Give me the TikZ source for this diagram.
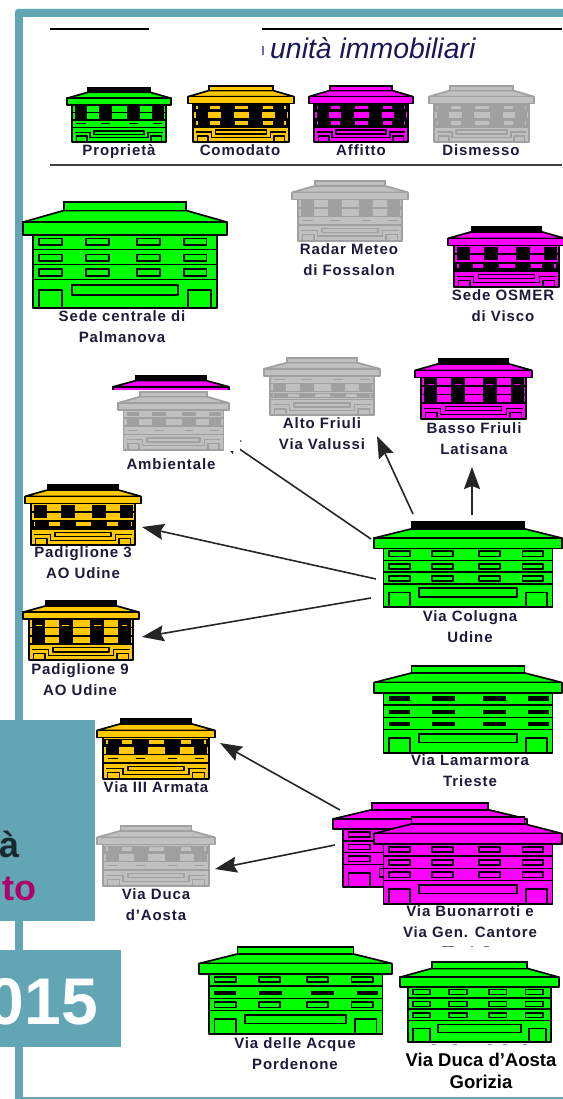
\documentclass[tikz,border=0pt]{standalone}
\usepackage{fontspec}
\setmainfont{Liberation Sans}
\newfontfamily\labfont[LetterSpace=6]{Liberation Sans}
\usetikzlibrary{arrows.meta}
\definecolor{tealc}{HTML}{62A5B4}
\definecolor{grn}{HTML}{00FF00}
\definecolor{yel}{HTML}{FFC800}
\definecolor{mag}{HTML}{FF00FF}
\definecolor{gfill}{HTML}{C0C0C0}
\definecolor{gline}{HTML}{A0A0A0}
\definecolor{labcol}{HTML}{1C1C3A}
\tikzset{
  bl/.style={draw=bline,line width=1.7pt,line join=bevel,fill=bfill},
  blk/.style={fill=bline,draw=none},
  lab/.style={font=\labfont\fontsize{15}{21}\selectfont\bfseries,text=labcol,align=center,inner sep=0pt},
  arr/.style={draw=black!85,line width=1.6pt,-{Stealth[length=22pt,width=16pt,inset=3pt]}},
  bbox/.style={inner sep=0pt,outer sep=0pt,anchor=north west}
}
% rows of windows, in the unit square of one building
\newcommand\bzwo[2]{\foreach \a/\b in {.08/.19,.31/.42,.56/.67,.79/.90}{\path[bl] (\a,#1) rectangle (\b,#2);}}
\newcommand\bzwb[2]{\foreach \a/\b in {.08/.19,.31/.43,.58/.70,.82/.93}{\path[blk] (\a,#1) rectangle (\b,#2);}}
\newcommand\bzwc[2]{\path[blk] (.05,#1) rectangle (.95,#2);
  \foreach \a/\b in {.075/.09,.21/.30,.44/.57,.71/.80,.91/.925}{\path[fill=bfill] (\a,#1+.02) rectangle (\b,#2-.02);}}
\newcommand\bzwd[1]{\foreach \a/\b in {.09/.18,.33/.41,.60/.68,.83/.91}{\draw[bline,line width=1.4pt] (\a,#1) -- (\b,#1);}}
\newcommand\bzout{\bzwo{.345}{.405}\bzwo{.495}{.555}\bzwo{.635}{.695}}
\newcommand\bzthin{\bzwb{.35}{.40}\bzwb{.50}{.55}\bzwb{.64}{.69}}
\newcommand\bzacq{\bzwo{.345}{.405}\bzwb{.50}{.55}\bzwo{.635}{.695}}
\newcommand\bzc{\bzwc{.33}{.43}\bzwb{.45}{.72}\bzwc{.60}{.72}}
\newcommand\bzp{\bzwb{.32}{.59}\bzwd{.66}}
\newcommand\bza{\bzwc{.33}{.43}\bzwb{.45}{.59}\bzwd{.66}}
\newcommand\bzalt{\bzwd{.38}\bzwb{.45}{.60}\bzwc{.61}{.71}}
\newcommand\bzamb{\bzwb{.34}{.42}\bzwb{.47}{.57}\bzwd{.66}}
\newcommand\bzo{\bzwb{.34}{.55}\bzwc{.59}{.71}}
\newcommand\bzd{\bzwb{.32}{.71}\foreach \a/\b in {.11/.16,.34/.40,.61/.67,.85/.90}{\draw[bfill,line width=1.2pt] (\a,.42) -- (\b,.42);}}
% ground floors
\newcommand\bzgbig{\path[bl] (.08,.83) rectangle (.19,1);\path[bl] (.81,.83) rectangle (.92,1);\path[bl] (.24,.78) rectangle (.76,.88);}
\newcommand\bzgsm{\draw[bline,line width=1.4pt] (.08,.82)--(.22,.82)--(.22,.92)--(.78,.92)--(.78,.82)--(.92,.82);
  \path[bl] (.09,.89) rectangle (.19,1);\path[bl] (.81,.89) rectangle (.91,1);\path[bl] (.26,.79) rectangle (.74,.86);}
% #1 name, #2-#5 box, #6 fill, #7 line, #8 cap fill, #9 rows and ground
\newcommand\bldg[9]{%
  \pgfmathsetmacro\bw{#4-#2}\pgfmathsetmacro\bh{#5-#3}%
  \node[bbox,minimum width=\bw pt,minimum height=\bh pt] (#1) at (#2,#3) {};
  \begin{scope}[shift={(#2,#3)},x=\bw pt,y=-\bh pt]
    \colorlet{bfill}{#6}\colorlet{bline}{#7}
    \path[bl] (.05,.31) rectangle (.95,1);
    \draw[bline,line width=1.5pt] (.05,.45)--(.95,.45) (.05,.59)--(.95,.59) (.05,.73)--(.95,.73);
    #9
    \path[bl] (0,.19)--(.2,.08)--(.8,.08)--(1,.19)--cycle;
    \path[draw=bline,line width=1.7pt,fill=#8] (.2,0) rectangle (.8,.08);
    \path[bl] (0,.19) rectangle (1,.31);
  \end{scope}}
\begin{document}
\begin{tikzpicture}[x=1pt,y=-1pt]
\useasboundingbox (0,0) rectangle (562,1099);
\fill[white] (0,0) rectangle (562,1099);
% frame
\fill[tealc,rounded corners=3pt] (15,9) -- (15,1103) -- (580,1103) -- (580,9) -- cycle;
\fill[white] (23,17) rectangle (570,1097);
% heading
\draw[black,line width=1.5pt] (50,29) -- (149,29);
\draw[black,line width=1.5pt] (262,29) -- (562,29);
\draw[black!75,line width=1.5pt] (50,165) -- (562,165);
\node[inner sep=0pt,anchor=base west,font=\fontsize{28.4}{30}\selectfont\itshape,text=labcol!85!blue] (titolo) at (270,59) {unità immobiliari};
\fill[blue!45!labcol,opacity=.6] (262,46) rectangle (264,55);
% legend
\bldg{prop}{67}{88}{171}{142}{grn}{black}{black}{\bzp\bzgsm}
\bldg{como}{188}{86}{294}{142}{yel}{black}{yel}{\bzc\bzgsm}
\bldg{affi}{309}{86}{413}{142}{mag}{black}{mag}{\bzc\bzgsm}
\bldg{dism}{429}{86}{534}{142}{gfill}{gline}{gfill}{\bzc\bzgsm}
\node[lab] (lprop) at (119,151.5) {Proprietà};
\node[lab] (lcomo) at (240,150) {Comodato};
\node[lab] (laffi) at (361,150) {Affitto};
\node[lab] (ldism) at (481,150) {Dismesso};
% buildings
\bldg{sede}{23}{202}{227}{308}{grn}{black}{grn}{\bzout\bzgbig}
\bldg{radar}{292}{181}{408}{241}{gfill}{gline}{gfill}{\bzp\bzgsm}
\bldg{osmer}{448}{227}{565}{287}{mag}{black}{black}{\bzo\bzgsm}
\bldg{alto}{264}{358}{380}{415}{gfill}{gline}{gfill}{\bzalt\bzgsm}
\bldg{basso}{415}{359}{532}{419}{mag}{black}{black}{\bzd\bzgsm}
\bldg{pad3}{25}{485}{141}{545}{yel}{black}{black}{\bzo\bzgsm}
\bldg{pad9}{23}{601}{139}{660}{yel}{black}{black}{\bzd\bzgsm}
\bldg{colugna}{374}{522}{562}{607}{grn}{black}{black}{\bzout\bzgbig}
\bldg{lamarmora}{374}{666}{562}{753}{grn}{black}{grn}{\bzthin\bzgbig}
\bldg{armata}{97}{719}{215}{779}{yel}{black}{black}{\bza\bzgsm}
\bldg{aostag}{97}{826}{215}{886}{gfill}{gline}{gfill}{\bza\bzgsm}
\bldg{buonb}{333}{803}{527}{887}{mag}{black}{mag}{\bzout\bzgbig}
\bldg{buonf}{374}{817}{562}{904}{mag}{black}{mag}{\bzout\bzgbig}
\bldg{acque}{199}{947}{392}{1034}{grn}{black}{grn}{\bzacq\bzgbig}
\bldg{ambroof}{113}{376}{229}{433}{mag}{black}{black}{}
% connectors
\draw[arr] ([shift={(-3,17)}]colugna.north west) -- ([shift={(-10,2)}]ambroof.south east);
\draw[arr] ([shift={(39,-8)}]colugna.north west) -- ([shift={(-3,21)}]alto.south east);
\draw[arr] ([shift={(98,-7)}]colugna.north west) -- ([shift={(57,48)}]basso.south west);
\draw[arr] ([shift={(2,57)}]colugna.north west) -- ([shift={(1,-18)}]pad3.south east);
\draw[arr] ([shift={(-3,76)}]colugna.north west) -- ([shift={(3,-23)}]pad9.south east);
\draw[arr] ([shift={(7,7)}]buonb.north west) -- ([shift={(5,-36)}]armata.south east);
\draw[arr] ([shift={(2,42)}]buonb.north west) -- ([shift={(0,-17)}]aostag.south east);
% pasted white patch of the Ambientale picture
\fill[white] (112,390) rectangle (239.5,450.5);
\bldg{ambientale}{118}{392}{229}{450}{gfill}{gline}{gfill}{\bzamb\bzgsm}
% labels
\node[lab] (lsede) at (122,327) {Sede centrale di\\Palmanova};
\node[lab] (lradar) at (349,260) {Radar Meteo\\di Fossalon};
\node[lab] (losmer) at (503,305.5) {Sede OSMER\\di Visco};
\node[lab] (lamb) at (171,464) {Ambientale};
\node[lab] (lalto) at (322,434) {Alto Friuli\\Via Valussi};
\node[lab] (lbasso) at (474,438.5) {Basso Friuli\\Latisana};
\node[lab] (lpad3) at (83,563) {Padiglione 3\\AO Udine};
\node[lab] (lpad9) at (80,679.5) {Padiglione 9\\AO Udine};
\node[lab] (lcol) at (470,626.5) {Via Colugna\\Udine};
\node[lab] (llam) at (470,770.5) {Via Lamarmora\\Trieste};
\node[lab] (larm) at (156,787) {Via III Armata};
\node[lab] (laos) at (156,905) {Via Duca\\d’Aosta};
\node[lab] (lbuon) at (470,922) {Via Buonarroti e\\Via Gen. Cantore};
\node[lab] (lacq) at (295,1053.5) {Via delle Acque\\Pordenone};
% remnants of covered text
\fill[labcol!60] (442,945.5) rectangle (454,947);
\fill[labcol!60] (471,945.5) rectangle (473,947);
\fill[labcol!60] (484,945.5) rectangle (489,947);
\foreach \a in {432,453,488,503,523}{\fill[labcol!45] (\a,1043.5) rectangle ++(4,1.5);}
% last building
\bldg{gorizia}{400}{962}{559}{1042}{grn}{black}{grn}{\bzout\bzgbig}
\node[font=\fontsize{18.5}{22}\selectfont\bfseries,text=black,align=center,inner sep=0pt] (lgor) at (481,1071) {Via Duca d’Aosta\\Gorizia};
% side panels
\fill[tealc] (0,720) rectangle (95,921);
\fill[tealc] (0,950) rectangle (121,1047);
\node[anchor=base east,inner sep=0pt,font=\fontsize{36}{40}\selectfont\bfseries,text=tealc!25!black] (pa) at (20,857) {à};
\node[anchor=base east,inner sep=0pt,font=\fontsize{36}{40}\selectfont\bfseries,text={rgb,255:red,176;green,0;blue,106}] (pb) at (37,900) {to};
\node[anchor=base east,inner sep=0pt,font=\fontsize{66}{70}\selectfont\bfseries,text=white] (pc) at (98,1024) {015};
\end{tikzpicture}
\end{document}
